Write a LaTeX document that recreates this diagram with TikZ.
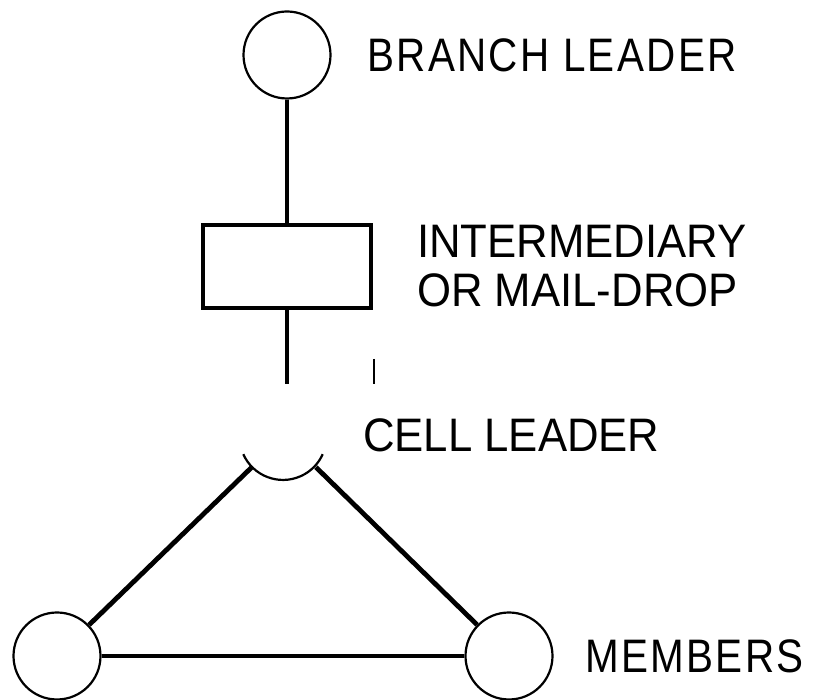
\documentclass[tikz,border=0pt]{standalone}
\usepackage{fontspec}
\usepackage{tikz}
\newfontfamily\lblfont[FakeStretch=0.93]{Liberation Sans}
\newfontfamily\typfont[FakeStretch=0.86, LetterSpace=5]{Liberation Sans}

\begin{document}
\begin{tikzpicture}[x=1pt, y=1pt,
     person/.style={circle, draw, line width=2.2pt, inner sep=0pt, minimum size=87pt},
     drop/.style={rectangle, draw, line width=4.5pt, inner sep=0pt, minimum width=168pt, minimum height=83pt},
     tag/.style={anchor=base west, inner sep=0pt, font=\lblfont\fontsize{47}{50}\selectfont},
     typed/.style={tag, font=\typfont\fontsize{47}{50}\selectfont},
     link/.style={line width=3.6pt},
     tie/.style={line width=4.8pt}]
     \useasboundingbox (0,0) rectangle (816,700);
     \node[person] (B) at (287,645) {};
     \node[drop] (I) at (287,433.5) {};
     \node[person, draw=none] (C) at (284,264) {};
     \node[person] (L) at (57,44) {};
     \node[person] (R) at (509,44) {};
     \coordinate (cut) at (287,316);
     \coordinate (t1) at (374,341);
     \coordinate (t2) at (374,316);

     \node[typed] (BT) at (367,628) {BRANCH LEADER};
     \node[tag] (IT) at (417,442) {INTERMEDIARY};
     \node[tag] (OT) at (417,393) {OR MAIL-DROP};
     \node[tag] (CT) at (363,248) {CELL LEADER};
     \node[typed] (MT) at (585,27) {MEMBERS};

     \draw[link] (B) -- (I);
     \draw[link] (I) -- (cut);
     \draw[line width=1.2pt] (t1) -- (t2);
     \draw[line width=2.2pt] (C.204) arc[start angle=204, end angle=336, radius=43.5pt];
     \draw[tie] (C) -- (L);
     \draw[tie] (C) -- (R);
     \draw[tie] (L) -- (R);
\end{tikzpicture}
\end{document}
